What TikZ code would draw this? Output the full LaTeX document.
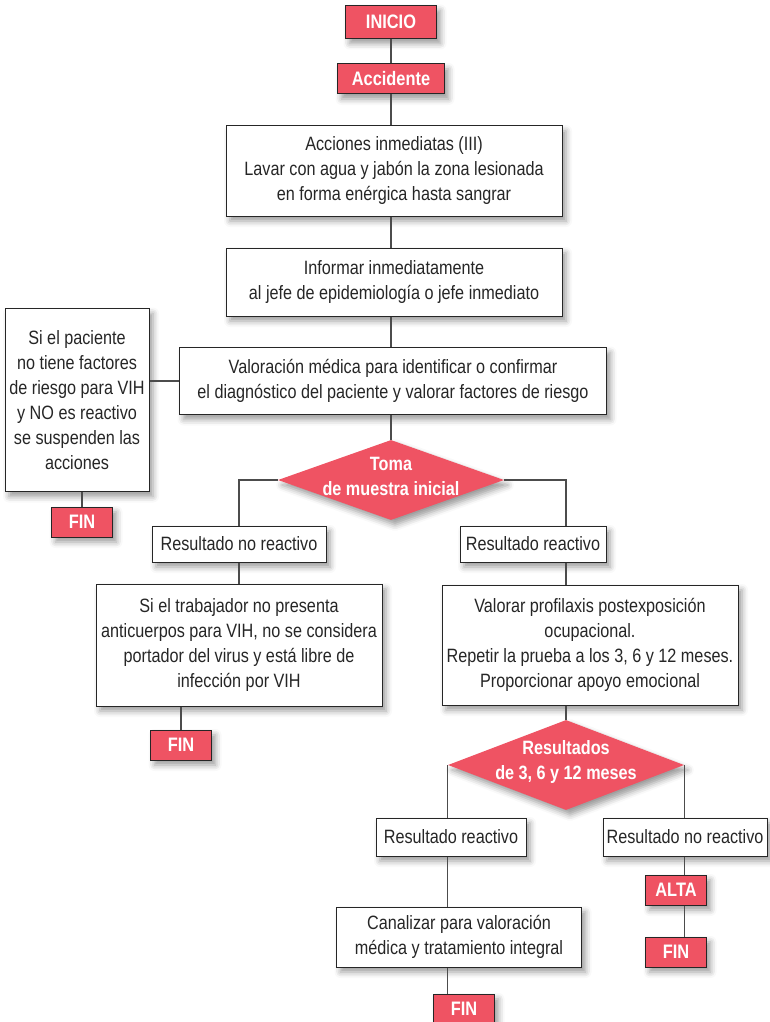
\documentclass[tikz,border=0pt]{standalone}
\usepackage{fontspec}
\setmainfont{Liberation Sans}[FakeStretch=0.84]
\usetikzlibrary{positioning,shapes.geometric,shadows.blur}
\definecolor{rojo}{RGB}{239,83,99}
\newcommand{\txtsize}{\fontsize{19.3}{25}\selectfont}
\newcommand{\finwidth}{61pt}
\newcommand{\finheight}{30pt}
\tikzstyle{sombra}=[blur shadow={shadow xshift=4pt,shadow yshift=-5pt,
                    shadow blur radius=6pt,shadow opacity=40}]
\tikzstyle{terminal}=[fill=rojo,text=white,draw=black!85,shape=rectangle,line width=1pt,
                      font=\bfseries\fontsize{19.5}{22}\selectfont,inner sep=0pt,
                      minimum width=\finwidth,minimum height=\finheight,sombra]
\tikzstyle{caja}=[fill=white,text=black!85,draw=black!85,shape=rectangle,line width=1pt,
                  align=center,font=\txtsize,inner sep=0pt,sombra]
\tikzstyle{decision}=[fill=rojo,draw=none,shape=diamond,inner sep=0pt,sombra]
\tikzstyle{decisiontxt}=[text=white,font=\bfseries\txtsize,align=center]
\tikzstyle{linea}=[draw=black!70,line width=1.3pt]

\begin{document}
\begin{tikzpicture}[x=1pt,y=-1pt]
\useasboundingbox (0,0) rectangle (770,1022);

\node [terminal, minimum width=91pt, minimum height=33pt] (inicio) at (391,22) {INICIO};
\node [terminal, minimum width=107pt] (accidente) at (391,79) {Accidente};
\node [caja, minimum width=336pt, minimum height=90pt] (acciones) at (394,171)
      {Acciones inmediatas (III)\\Lavar con agua y jabón la zona lesionada\\en forma enérgica hasta sangrar};
\node [caja, minimum width=336pt, minimum height=68pt] (informar) at (394,282)
      {Informar inmediatamente\\al jefe de epidemiología o jefe inmediato};
\node [caja, minimum width=427pt, minimum height=67pt] (valoracion) at (393,381)
      {Valoración médica para identificar o confirmar\\el diagnóstico del paciente y valorar factores de riesgo};
\node [caja, minimum width=144pt, minimum height=183pt] (paciente) at (77,400)
      {Si el paciente\\no tiene factores\\de riesgo para VIH\\y NO es reactivo\\se suspenden las\\acciones};
\node [terminal] (fin1) at (82,522) {FIN};

\node [decision, minimum width=226pt, minimum height=80pt] (toma) at (391,480) {};
\node [decisiontxt] (tomatxt) at (391,476) {Toma\\de muestra inicial};

\node [caja, minimum width=174pt, minimum height=36pt] (noreact1) at (239,544) {Resultado no reactivo};
\node [caja, minimum width=146pt, minimum height=36pt] (react1) at (533,544) {Resultado reactivo};
\node [caja, minimum width=286pt, minimum height=122pt] (trabajador) at (239,645)
      {Si el trabajador no presenta\\anticuerpos para VIH, no se considera\\portador del virus y está libre de\\infección por VIH};
\node [terminal] (fin2) at (181,745) {FIN};
\node [caja, minimum width=296pt, minimum height=120pt] (valorar) at (590,645)
      {Valorar profilaxis postexposición\\ocupacional.\\Repetir la prueba a los 3, 6 y 12 meses.\\Proporcionar apoyo emocional};

\node [decision, minimum width=236pt, minimum height=90pt] (resultados) at (566,765) {};
\node [decisiontxt] (resultadostxt) at (566,762) {Resultados\\de 3, 6 y 12 meses};

\node [caja, minimum width=150pt, minimum height=38pt] (react2) at (451,837) {Resultado reactivo};
\node [caja, minimum width=164pt, minimum height=38pt] (noreact2) at (685,837) {Resultado no reactivo};
\node [terminal] (alta) at (676,890) {ALTA};
\node [terminal] (fin3) at (676,952) {FIN};
\node [caja, minimum width=245pt, minimum height=60pt] (canalizar) at (459,937)
      {Canalizar para valoración\\médica y tratamiento integral};
\node [terminal] (fin4) at (464,1009) {FIN};

\draw [linea] (inicio.south) -- (accidente.north);
\draw [linea] (accidente.south) -- (accidente.south |- acciones.north);
\draw [linea] (accidente.south |- acciones.south) -- (accidente.south |- informar.north);
\draw [linea] (accidente.south |- informar.south) -- (accidente.south |- valoracion.north);
\draw [linea] (accidente.south |- valoracion.south) -- (toma.north);
\draw [linea] (paciente.east |- valoracion.west) -- (valoracion.west);
\draw [linea] (fin1.north |- paciente.south) -- (fin1.north);

\draw [linea] (toma.west) -| (noreact1.north);
\draw [linea] (noreact1.south) -- (trabajador.north);
\draw [linea] (fin2.north |- trabajador.south) -- (fin2.north);
\draw [linea] (toma.east) -| (resultados.north |- react1.north);
\draw [linea] (resultados.north |- react1.south) -- (resultados.north |- valorar.north);
\draw [linea] (resultados.north |- valorar.south) -- (resultados.north);

\draw [linea] (resultados.west) -- (resultados.west |- react2.north);
\draw [linea] (resultados.west |- react2.south) -- (resultados.west |- canalizar.north);
\draw [linea] (resultados.west |- canalizar.south) -- (resultados.west |- fin4.north);
\draw [linea] (resultados.east) -- (resultados.east |- noreact2.north);
\draw [linea] (resultados.east |- noreact2.south) -- (resultados.east |- alta.north);
\draw [linea] (resultados.east |- alta.south) -- (resultados.east |- fin3.north);
\end{tikzpicture}
\end{document}
